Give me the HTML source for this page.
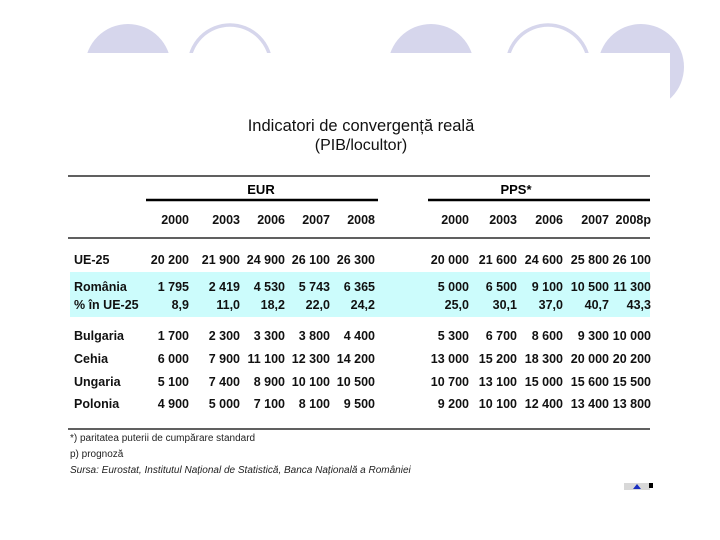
<!DOCTYPE html>
<html><head><meta charset="utf-8"><style>
body{margin:0;background:#fff;}
#wrap{position:relative;width:720px;height:540px;overflow:hidden;background:#fff;font-family:"Liberation Sans",sans-serif;}
svg text{font-family:"Liberation Sans",sans-serif;}
</style></head><body>
<div id="wrap">
<svg id="s" width="720" height="540">
  <g>
    <circle cx="128" cy="67" r="43" fill="#d6d6ec"/>
    <circle cx="230" cy="66" r="41" fill="none" stroke="#d6d6ec" stroke-width="3.5"/>
    <circle cx="431" cy="67" r="43" fill="#d6d6ec"/>
    <circle cx="548" cy="66" r="41" fill="none" stroke="#d6d6ec" stroke-width="3.5"/>
    <circle cx="641" cy="67" r="43" fill="#d6d6ec"/>
    <rect x="0" y="53" width="670" height="60" fill="#fff"/>
  </g>
  <text x="361" y="131" text-anchor="middle" font-size="16.5" fill="#111">Indicatori de convergență reală</text>
  <text x="361" y="150" text-anchor="middle" font-size="16" fill="#111">(PIB/locultor)</text>
  <rect x="70" y="272" width="580" height="45" fill="#ccfcfc"/>
  <line x1="68" y1="176" x2="650" y2="176" stroke="#000" stroke-width="1.2"/>
  <line x1="146" y1="200" x2="378" y2="200" stroke="#000" stroke-width="2.5"/>
  <line x1="428" y1="200" x2="650" y2="200" stroke="#000" stroke-width="2.5"/>
  <line x1="68" y1="238" x2="650" y2="238" stroke="#000" stroke-width="1.2"/>
  <line x1="68" y1="429" x2="650" y2="429" stroke="#000" stroke-width="1.2"/>
  <text x="261" y="194" text-anchor="middle" font-size="13" font-weight="bold">EUR</text>
  <text x="516" y="194" text-anchor="middle" font-size="13" font-weight="bold">PPS*</text>
  <g id="tbl"></g>
  <text x="70" y="441" font-size="10" fill="#222">*) paritatea puterii de cumpărare standard</text>
  <text x="70" y="457" font-size="10" fill="#222">p) prognoză</text>
  <text x="70" y="473" font-size="10" font-style="italic" fill="#222">Sursa: Eurostat, Institutul Național de Statistică, Banca Națională a României</text>
  <g>
    <rect x="624" y="483" width="26" height="7" fill="#d8d8d8"/>
    <polygon points="633,489 637,484 641,489" fill="#1a2fc0"/>
    <rect x="649" y="483" width="4" height="5" fill="#000"/>
  </g>
</svg>
</div>
<script>
const years = ["2000","2003","2006","2007","2008"];
const yearsPPS = ["2000","2003","2006","2007","2008p"];
const rowLabels = ["UE-25","România","% în UE-25","Bulgaria","Cehia","Ungaria","Polonia"];
const eurValues = [
  ["20 200","21 900","24 900","26 100","26 300"],
  ["1 795","2 419","4 530","5 743","6 365"],
  ["8,9","11,0","18,2","22,0","24,2"],
  ["1 700","2 300","3 300","3 800","4 400"],
  ["6 000","7 900","11 100","12 300","14 200"],
  ["5 100","7 400","8 900","10 100","10 500"],
  ["4 900","5 000","7 100","8 100","9 500"]
];
const ppsValues = [
  ["20 000","21 600","24 600","25 800","26 100"],
  ["5 000","6 500","9 100","10 500","11 300"],
  ["25,0","30,1","37,0","40,7","43,3"],
  ["5 300","6 700","8 600","9 300","10 000"],
  ["13 000","15 200","18 300","20 000","20 200"],
  ["10 700","13 100","15 000","15 600","15 500"],
  ["9 200","10 100","12 400","13 400","13 800"]
];
const NS="http://www.w3.org/2000/svg";
const g=document.getElementById('tbl');
const eurX=[189,240,285,330,375], ppsX=[469,517,563,609,651];
const rowY=[264,291,309,340,363,386,408];
function t(x,y,s,anchor){const e=document.createElementNS(NS,'text');e.setAttribute('x',x);e.setAttribute('y',y);e.setAttribute('font-size','12.5');e.setAttribute('font-weight','bold');e.setAttribute('fill','#111');e.setAttribute('text-anchor',anchor);e.textContent=s;g.appendChild(e);return e;}
years.forEach((y,i)=>{const e=t(eurX[i],224,y,'end');

});
yearsPPS.forEach((y,i)=>{const e=t(ppsX[i],224,y,'end');

});
rowLabels.forEach((l,r)=>{
  const e=t(74,rowY[r],l,'start');
  
  
  eurValues[r].forEach((v,i)=>{const c=t(eurX[i],rowY[r],v,'end');
  
  });
  ppsValues[r].forEach((v,i)=>{const c=t(ppsX[i],rowY[r],v,'end');
  
  });
});
</script>
</body></html>
